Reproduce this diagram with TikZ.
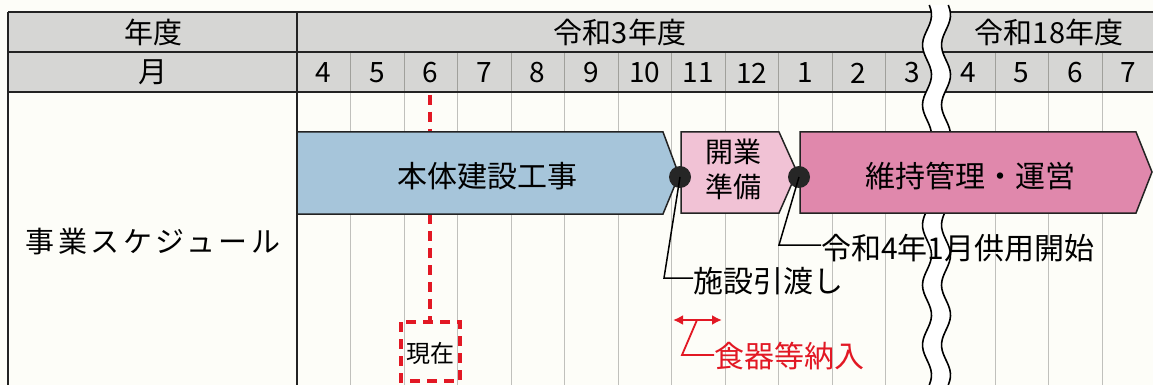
\documentclass[tikz,border=0pt]{standalone}
\usepackage{fontspec}
\setmainfont{Noto Sans CJK JP}
\usetikzlibrary{arrows.meta}
\definecolor{bgc}{RGB}{253,253,248}
\definecolor{hdr}{RGB}{214,214,212}
\definecolor{bluebar}{RGB}{166,197,218}
\definecolor{pinklt}{RGB}{241,194,213}
\definecolor{pinkdk}{RGB}{224,136,172}
\definecolor{redc}{RGB}{226,24,36}
\definecolor{gridc}{RGB}{192,192,188}
\definecolor{gridh}{RGB}{160,160,155}
\definecolor{linec}{RGB}{35,35,35}
\newcommand{\fs}[1]{\fontsize{#1}{#1}\selectfont}
\begin{document}
\begin{tikzpicture}[x=1pt,y=-1pt,
  frame/.style={line width=2pt,draw=linec},
  gridm/.style={line width=0.8pt,draw=gridc},
  gridr/.style={line width=1pt,draw=gridh},
  bar/.style={line width=1.5pt,draw=linec},
  txt/.style={inner sep=0pt,text=black},
  dot/.style={circle,fill=black!85,inner sep=0pt,minimum size=22pt},
  lead/.style={line width=1.5pt,draw=black},
  reddash/.style={line width=3.2pt,draw=redc,dash pattern=on 10pt off 7pt},
  redlead/.style={line width=1.8pt,draw=redc}]
\useasboundingbox (0,0) rectangle (1153,385);
\fill[bgc] (0,0) rectangle (1153,385);
% header fill
\fill[hdr] (8,12) rectangle (1153,92);
% month grid lines in header row 2 and body
\foreach \k in {1,...,11}{
  \draw[gridr] ({297+53.5*\k},52) -- ({297+53.5*\k},92);
  \draw[gridm] ({297+53.5*\k},92) -- ({297+53.5*\k},385);
}
\foreach \xx in {995,1048.5,1102}{
  \draw[gridr] (\xx,52) -- (\xx,92);
  \draw[gridm] (\xx,92) -- (\xx,385);
}
% frame lines
\draw[frame] (8,12) -- (1153,12);
\draw[frame] (8,52) -- (1153,52);
\draw[frame] (8,92) -- (1153,92);
\draw[frame] (8,12) -- (8,385);
\draw[frame] (297,12) -- (297,385);
% red "now" dashed line and box
\draw[reddash] (430,95) -- (430,322);
\draw[reddash] (401,322) rectangle (460,381);
% break (wavy gap)
\fill[white] plot[domain=5:385,samples=100] ({927+4.5*sin(6*\x)},\x)
  -- plot[domain=385:5,samples=100] ({946+4.5*sin(6*\x)},\x) -- cycle;
\draw[line width=1.6pt] plot[domain=5:385,samples=100] ({927+4.5*sin(6*\x)},\x);
\draw[line width=1.6pt] plot[domain=5:385,samples=100] ({946+4.5*sin(6*\x)},\x);
% header texts
\node[txt,font=\fs{29}] (hyear) at (153,32) {年度};
\node[txt,font=\fs{29}] (hmonth) at (153,72) {月};
\node[txt,font=\fs{29}] (r3) at (620,32) {令和3年度};
\node[txt,font=\fs{29}] (r18) at (1049,32) {令和18年度};
\foreach \m [count=\i from 0] in {4,5,6,7,8,9,10,11,12,1,2,3}{
  \node[txt,font=\fs{28}] (m\i) at ({297+53.5*(\i+0.5)},73) {\m};
}
\foreach \m [count=\i from 0] in {4,5,6,7}{
  \node[txt,font=\fs{28}] (n\i) at ({968+53.5*\i},73) {\m};
}
% row label
\node[txt,font=\fs{29}\addfontfeature{LetterSpace=12}] (row) at (153,242) {事業スケジュール};
% bars
\filldraw[bar,fill=bluebar] (297,132) -- (663,132) -- (679,175) -- (663,214) -- (297,214) -- cycle;
\filldraw[bar,fill=pinklt] (681,132) -- (779,132) -- (797,172) -- (779,213) -- (681,213) -- cycle;
\filldraw[bar,fill=pinkdk] (800,132) -- (1136,132) -- (1152,172) -- (1136,213) -- (800,213) -- cycle;
\node[txt,font=\fs{30}] (b1) at (487,176) {本体建設工事};
\node[txt,font=\fs{28}] (b2a) at (733,152) {開業};
\node[txt,font=\fs{28}] (b2b) at (733,187) {準備};
\node[txt,font=\fs{30}] (b3) at (970,176) {維持管理・運営};
% milestones
\node[dot] (d1) at (680,177) {};
\node[dot] (d2) at (799,177) {};
\node[txt,font=\fs{30},anchor=west] (c1) at (693,281) {施設引渡し};
\node[txt,font=\fs{30},anchor=west] (c2) at (821,248) {令和4年1月供用開始};
\coordinate (k1) at (664,278);
\coordinate (k2) at (779,245);
\draw[lead] (d1.center) -- (k1) -- (c1.west |- k1);
\draw[lead] (d2.center) -- (k2) -- (c2.west |- k2);
% now label
\node[txt,font=\fs{24}] (now) at (430,353) {現在};
% tableware delivery
\coordinate (a1) at (673,320);
\coordinate (a2) at (722,320);
\draw[redc,line width=2pt,{Latex[length=10pt,width=10pt]}-{Latex[length=10pt,width=10pt]}] (a1) -- (a2);
\node[txt,font=\fs{30},text=redc,anchor=west] (c3) at (714,356) {食器等納入};
\coordinate (k3) at (682,355);
\draw[redlead] (697,320) -- (k3) -- (c3.west |- k3);
\end{tikzpicture}
\end{document}
